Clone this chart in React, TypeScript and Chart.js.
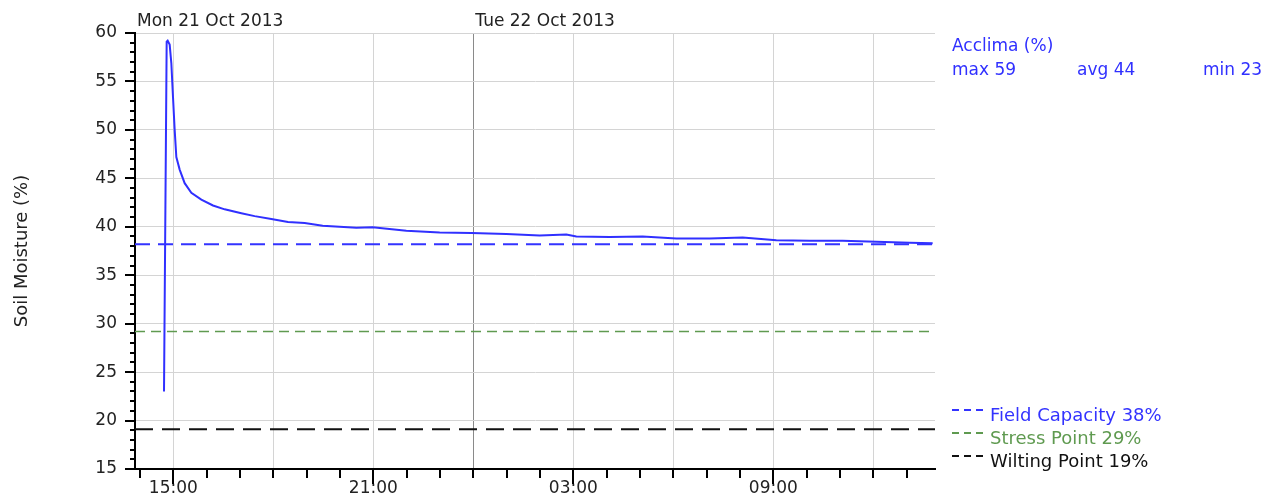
import React, { useEffect, useRef } from 'react';
import { Chart, registerables } from 'chart.js';

Chart.register(...registerables);

// ---- data ----
const seriesName = 'Acclima (%)';
// hours since Mon 21 Oct 2013 00:00
const timeHours = [
  14.72, 14.80, 14.83, 14.89, 14.94, 14.99, 15.04, 15.09, 15.19, 15.34,
  15.54, 15.84, 16.19, 16.54, 17.04, 17.44, 17.94, 18.44, 18.94, 19.48,
  20.49, 20.98, 21.99, 22.99, 23.94, 24.99, 25.99, 26.79, 27.09, 28.09,
  29.08, 30.09, 31.09, 32.08, 33.09, 34.09, 35.08, 36.09, 37.09, 37.78,
];
const moisture = [
  23.0, 59.1, 59.2, 58.8, 56.9, 53.4, 50.0, 47.2, 45.9, 44.5,
  43.5, 42.8, 42.2, 41.8, 41.4, 41.1, 40.8, 40.5, 40.4, 40.1,
  39.9, 39.95, 39.6, 39.4, 39.35, 39.25, 39.1, 39.2, 39.0, 38.95,
  39.0, 38.8, 38.8, 38.9, 38.6, 38.55, 38.55, 38.45, 38.35, 38.3,
];
const statLabels = ['max 59', 'avg 44', 'min 23'];

const refNames = ['Field Capacity 38%', 'Stress Point 29%', 'Wilting Point 19%'];
const refValues = [38.2, 29.2, 19.1];

const xMinHour = 13.85;
const xMaxHour = 37.85;
const xTickHours = [14, 15, 16, 17, 18, 19, 20, 21, 22, 23, 24, 25, 26, 27, 28, 29, 30, 31, 32, 33, 34, 35, 36, 37];
const xLabelHours = [15, 21, 27, 33];
const xTickLabels = ['15:00', '21:00', '03:00', '09:00'];
const xGridHours = [15, 18, 21, 24, 27, 30, 33, 36];
const midnightHours = [24];
const dayLabels = ['Mon 21 Oct 2013', 'Tue 22 Oct 2013'];
const dayStartHours = [0, 24];

const yMin = 15;
const yMax = 60;
const yMinorStep = 1;
const yLabelStep = 5;
const yTitle = 'Soil Moisture (%)';

// ---- styles ----
const FONT = '"DejaVu Sans", sans-serif';
const seriesColor = '#3030ff';
const refColors = ['#3333ff', '#5f9a50', '#111111'];
const refWidths = [2, 1.5, 2];
const refDashes = [[15, 8], [10, 6], [18, 9]];
const textColor = '#222222';
const gridColor = '#d4d4d4';
const midnightColor = '#8a8a8a';

const yTickValues: number[] = [];
for (let v = yMin; v <= yMax; v += yMinorStep) yTickValues.push(v);

const decorPlugin = {
  id: 'decor',
  afterDraw(chart: any) {
    const { ctx, chartArea, scales } = chart;
    const x = scales.x;
    const y = scales.y;
    ctx.save();
    // tick marks
    ctx.strokeStyle = '#000';
    ctx.lineWidth = 2;
    ctx.beginPath();
    for (const v of yTickValues) {
      const py = Math.round(y.getPixelForValue(v));
      const len = v % yLabelStep === 0 ? 10 : 5;
      ctx.moveTo(chartArea.left - len, py);
      ctx.lineTo(chartArea.left, py);
    }
    for (const h of xTickHours) {
      const px = Math.round(x.getPixelForValue(h));
      const len = xLabelHours.includes(h) ? 15 : 9;
      ctx.moveTo(px, chartArea.bottom);
      ctx.lineTo(px, chartArea.bottom + len);
    }
    ctx.stroke();

    // day labels
    ctx.font = `17px ${FONT}`;
    ctx.fillStyle = textColor;
    ctx.textBaseline = 'alphabetic';
    ctx.textAlign = 'left';
    dayLabels.forEach((lab, i) => {
      const px = Math.max(chartArea.left, x.getPixelForValue(dayStartHours[i]));
      ctx.fillText(lab, px + 2, 26);
    });

    // series legend
    const lx = chartArea.right + 17;
    ctx.fillStyle = seriesColor;
    ctx.font = `17px ${FONT}`;
    ctx.fillText(seriesName, lx, 51);
    const statX = [lx, lx + 125, lx + 251];
    statLabels.forEach((s, i) => ctx.fillText(s, statX[i], 75));

    // reference legend
    const rowY = [421, 444, 467];
    refNames.forEach((name, i) => {
      ctx.strokeStyle = refColors[i];
      ctx.lineWidth = 2;
      ctx.setLineDash([7, 5]);
      ctx.beginPath();
      ctx.moveTo(lx, rowY[i] - 11);
      ctx.lineTo(lx + 31, rowY[i] - 11);
      ctx.stroke();
      ctx.setLineDash([]);
      ctx.fillStyle = refColors[i];
      ctx.font = `18px ${FONT}`;
      ctx.fillText(name, lx + 38, rowY[i]);
    });
    ctx.restore();
  },
};

export default function App() {
  const canvasRef = useRef<HTMLCanvasElement | null>(null);

  useEffect(() => {
    const canvas = canvasRef.current;
    if (!canvas) return;

    const seriesData = timeHours.map((t, i) => ({ x: t, y: moisture[i] }));
    const refDatasets = refValues.map((v, i) => ({
      label: refNames[i],
      data: [{ x: xMinHour, y: v }, { x: xMaxHour, y: v }],
      borderColor: refColors[i],
      borderWidth: refWidths[i],
      borderDash: refDashes[i],
      pointRadius: 0,
      fill: false,
      tension: 0,
    }));

    const chart = new Chart(canvas, {
      type: 'line',
      data: {
        datasets: [
          ...refDatasets,
          {
            label: seriesName,
            data: seriesData,
            borderColor: seriesColor,
            borderWidth: 2,
            pointRadius: 0,
            fill: false,
            tension: 0,
          },
        ],
      },
      options: {
        animation: false,
        responsive: false,
        devicePixelRatio: 1,
        parsing: false,
        normalized: true,
        layout: { padding: { left: 0, right: 330, top: 33, bottom: 0 } },
        plugins: {
          legend: { display: false },
          tooltip: { enabled: false },
        },
        scales: {
          x: {
            type: 'linear',
            position: 'bottom',
            min: xMinHour,
            max: xMaxHour,
            afterBuildTicks: (scale: any) => {
              scale.ticks = xTickHours.map((v) => ({ value: v }));
            },
            afterFit: (scale: any) => {
              scale.height = 30;
            },
            ticks: {
              autoSkip: false,
              maxRotation: 0,
              minRotation: 0,
              padding: 9,
              color: textColor,
              font: { family: FONT, size: 17 },
              callback: (value: any) => {
                const idx = xLabelHours.indexOf(Number(value));
                return idx >= 0 ? xTickLabels[idx] : '';
              },
            },
            grid: {
              drawTicks: false,
              lineWidth: 1,
              color: (ctx: any) => {
                const v = ctx.tick ? ctx.tick.value : null;
                if (v === null) return 'transparent';
                if (midnightHours.includes(v)) return midnightColor;
                return xGridHours.includes(v) ? gridColor : 'transparent';
              },
            },
            border: { display: true, color: '#000', width: 2 },
          },
          y: {
            type: 'linear',
            position: 'left',
            min: yMin,
            max: yMax,
            afterBuildTicks: (scale: any) => {
              scale.ticks = yTickValues.map((v) => ({ value: v }));
            },
            afterFit: (scale: any) => {
              scale.width = 135;
            },
            title: {
              display: true,
              text: yTitle,
              color: textColor,
              font: { family: FONT, size: 18 },
              padding: { top: 12, bottom: 0 },
            },
            ticks: {
              autoSkip: false,
              padding: 18,
              color: textColor,
              font: { family: FONT, size: 17 },
              callback: (value: any) => (Number(value) % yLabelStep === 0 ? String(value) : ''),
            },
            grid: {
              drawTicks: false,
              lineWidth: 1,
              color: (ctx: any) => {
                const v = ctx.tick ? ctx.tick.value : null;
                return v !== null && v % yLabelStep === 0 ? gridColor : 'transparent';
              },
            },
            border: { display: true, color: '#000', width: 2 },
          },
        },
      },
      plugins: [decorPlugin],
    } as any);

    return () => chart.destroy();
  }, []);

  return (
    <div style={{ position: 'fixed', left: 0, top: 0, width: 1265, height: 499, background: '#fff' }}>
      <canvas ref={canvasRef} width={1265} height={499} style={{ display: 'block' }} />
    </div>
  );
}
